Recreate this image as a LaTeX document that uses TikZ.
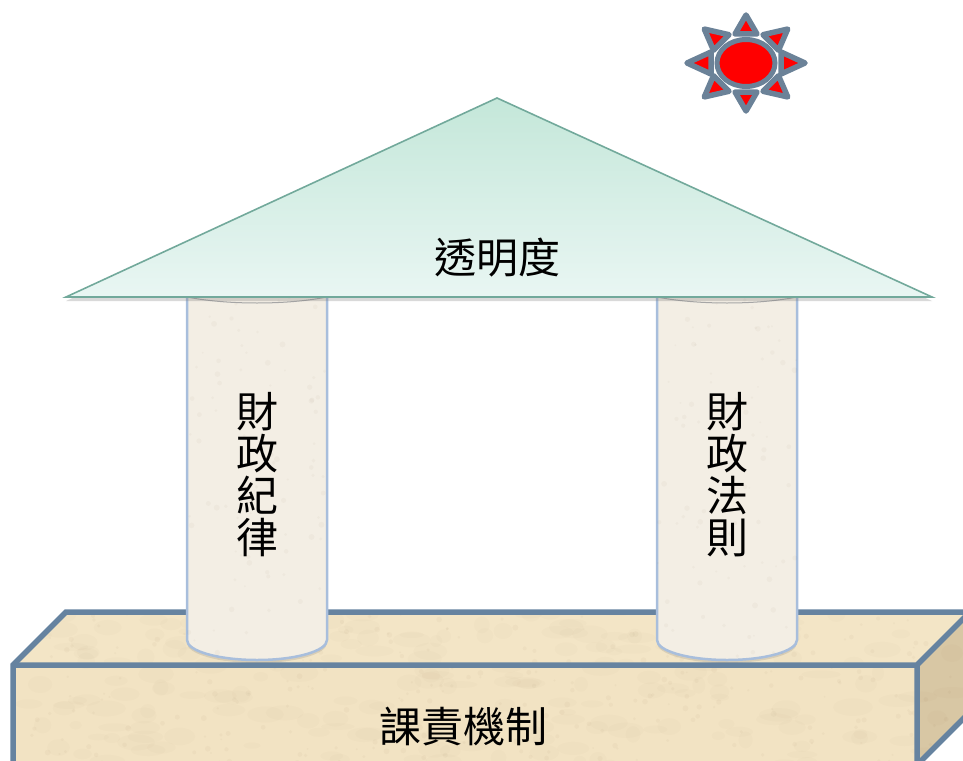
\documentclass[tikz,border=0pt]{standalone}
\usepackage{fontspec}
\newfontfamily\cjk{Noto Sans CJK TC}
\usetikzlibrary{shadows}
\definecolor{edgeblue}{HTML}{6683A0}
\definecolor{sand}{HTML}{F2E3C3}
\definecolor{sandtop}{HTML}{F3E5C6}
\definecolor{sandside}{HTML}{D8C7A4}
\definecolor{stone}{HTML}{F3EEE4}
\definecolor{stoneedge}{HTML}{A8BEDC}
\definecolor{roofedge}{HTML}{72A99B}
\definecolor{rooftop}{HTML}{C4E7D9}
\definecolor{roofbottom}{HTML}{E9F6F3}
\definecolor{sungray}{HTML}{6B8298}
\tikzset{
  slab/.style={draw=edgeblue, line width=5.5pt, line join=miter},
  column/.style={fill=stone, draw=stoneedge, line width=2.5pt},
  roof/.style={draw=roofedge, line width=1.6pt, top color=rooftop, bottom color=roofbottom, line join=miter},
  sunray/.style={fill=red, draw=sungray, line width=5.5pt, line join=round},
  sundisk/.style={fill=red, draw=sungray, line width=5pt},
  label/.style={font=\cjk\fontsize{42}{42}\selectfont, inner sep=0pt, text=black},
  stack/.style={label, align=center},
  mottle/.style={fill=brown!70!black, opacity=0.02},
  speck/.style={fill=brown!50!black, opacity=0.03}
}
\begin{document}
\begin{tikzpicture}[x=1pt,y=-1pt]
\useasboundingbox (0,0) rectangle (963,760);

% foundation slab
\begin{scope}
\clip (0,0) rectangle (963,760);
\path[fill=sandtop] (13,665) -- (66,612) -- (990,612) -- (917,665) -- cycle;
\path[fill=sandside] (917,665) -- (990,592) -- (990,692) -- (917,765) -- cycle;
\path[fill=sand] (13,665) rectangle (917,780);
\pgfmathsetseed{7}
\begin{scope}
\clip (13,665) -- (66,612) -- (990,612) -- (990,692) -- (917,765) -- (917,780) -- (13,780) -- cycle;
\foreach \i in {1,...,220}
  \fill[mottle] ({13+950*rnd},{612+160*rnd}) ellipse ({6+14*rnd} and {3+6*rnd});
\foreach \i in {1,...,300}
  \fill[speck] ({13+950*rnd},{612+160*rnd}) circle ({1+2*rnd});
\end{scope}
\draw[slab] (13,780) -- (13,665) -- (66,612) -- (990,612);
\draw[slab] (13,665) -- (917,665) -- (990,592);
\draw[slab] (917,665) -- (917,765) -- (990,692);
\end{scope}

% columns
\foreach \cx/\nm in {257/colL, 727/colR}{
  \path[column, drop shadow={opacity=0.22, shadow xshift=0pt, shadow yshift=-3pt}]
    ({\cx-70},290) -- ({\cx-70},640) arc[start angle=180, end angle=0, x radius=70, y radius=20]
    -- ({\cx+70},290) -- cycle;
  \begin{scope}
  \clip ({\cx-70},290) rectangle ({\cx+70},662);
  \foreach \i in {1,...,90}
    \fill[speck] ({\cx-70+140*rnd},{290+370*rnd}) circle ({1+2*rnd});
  \end{scope}
  \draw[gray!70, line width=1pt] ({\cx-70},297) .. controls ({\cx-30},305) and ({\cx+30},305) .. ({\cx+70},297);
  \coordinate (\nm) at (\cx,475);
}

% roof
\path[roof, drop shadow={opacity=0.3, shadow xshift=0pt, shadow yshift=-4pt}]
  (497,98) -- (932,297) -- (66,297) -- cycle;

% sun
\coordinate (sun) at (746,63);
\foreach \a in {0,45,...,315}{
  \draw[sunray]
    ({746+59*cos(\a)},{63+48*sin(\a)})
    -- ({746+35*cos(\a)-11*sin(\a)},{63+29*sin(\a)+11*cos(\a)})
    -- ({746+35*cos(\a)+11*sin(\a)},{63+29*sin(\a)-11*cos(\a)})
    -- cycle;
}
\draw[sundisk] (sun) ellipse (29 and 23.5);

% labels
\node[label] (transp) at (497,258) {透明度};
\node[stack] (disc) at (colL) {財\\政\\紀\\律};
\node[stack] (rules) at (colR) {財\\政\\法\\則};
\node[label] (acct) at (463,727) {課責機制};
\end{tikzpicture}
\end{document}
